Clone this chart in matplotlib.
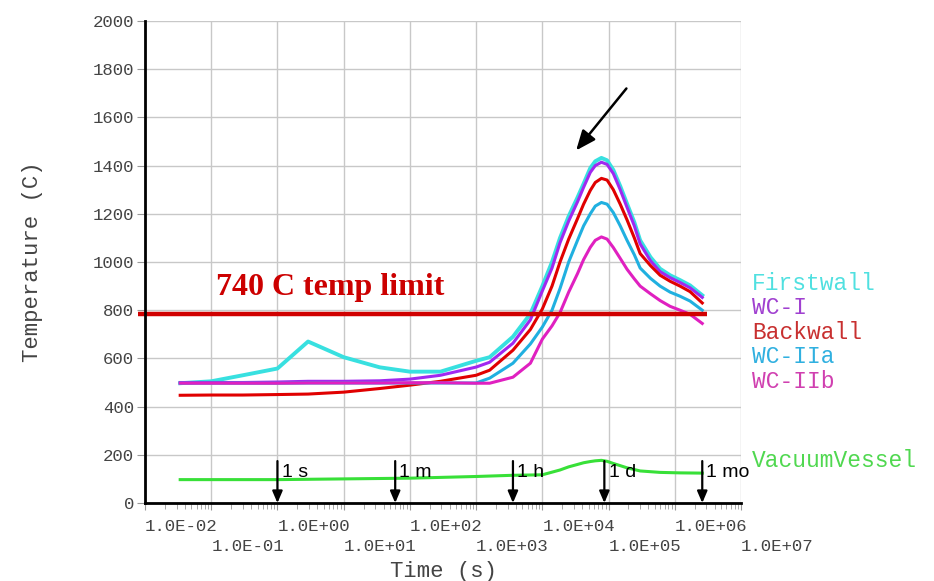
import numpy as np
import matplotlib
matplotlib.use('Agg')
import matplotlib.pyplot as plt
from matplotlib.transforms import blended_transform_factory

# time points (s) shared by the five hot curves
time_s = [0.034, 0.1, 0.3, 1, 2.9, 10, 35, 100, 290, 1000, 1600, 3600, 6600,
          1.0e4, 1.4e4, 1.85e4, 2.5e4, 3.4e4, 4.2e4, 5.3e4, 6.3e4, 7.8e4, 9.5e4,
          1.18e5, 1.5e5, 1.9e5, 2.45e5, 3.0e5, 4.3e5, 6.0e5, 8.5e5, 1.2e6, 1.7e6, 2.6e6]

firstwall = [497, 505, 530, 558, 670, 605, 563, 545, 545, 590, 605, 690, 785,
             900, 1000, 1100, 1190, 1268, 1325, 1390, 1418, 1432, 1422,
             1382, 1315, 1242, 1165, 1090, 1020, 972, 945, 925, 903, 862]
wc_i = [500, 500, 500, 502, 505, 505, 507, 514, 530, 564, 584, 663, 760,
        880, 975, 1080, 1170, 1250, 1310, 1372, 1400, 1414, 1405,
        1367, 1300, 1227, 1150, 1075, 1005, 960, 935, 915, 893, 853]
backwall = [447, 448, 448, 450, 452, 460, 475, 489, 505, 530, 551, 634, 720,
            805, 900, 1000, 1095, 1180, 1240, 1297, 1330, 1347, 1340,
            1300, 1240, 1175, 1100, 1035, 985, 945, 920, 900, 877, 830]
wc_iia = [497, 497, 497, 497, 498, 498, 498, 498, 498, 498, 518, 580, 660,
          730, 800, 890, 1000, 1090, 1150, 1200, 1232, 1247, 1240,
          1205, 1150, 1090, 1030, 975, 932, 900, 875, 858, 838, 800]
wc_iib = [497, 497, 497, 497, 498, 498, 498, 499, 499, 497, 497, 522, 580,
          680, 735, 790, 875, 952, 1010, 1061, 1090, 1104, 1095,
          1060, 1015, 970, 930, 900, 868, 840, 816, 800, 783, 745]

vv_time = [0.034, 1, 10, 100, 1000, 3600, 1.0e4, 1.85e4, 2.5e4, 3.4e4, 4.2e4,
           5.3e4, 6.3e4, 7.8e4, 9.5e4, 1.18e5, 1.5e5, 1.9e5, 3.0e5, 6.0e5, 1.2e6, 2.6e6]
vacuum_vessel = [97, 97, 100, 103, 110, 115, 117, 137, 150, 160, 167, 172, 175,
                 177, 173, 164, 155, 146, 133, 127, 125, 124]

series_names = ['Firstwall', 'WC-I', 'Backwall', 'WC-IIa', 'WC-IIb', 'VacuumVessel']
line_colors = ['#38e0e0', '#a028f0', '#e00000', '#20b0e0', '#e020c0', '#38e038']
label_colors = ['#50e0e0', '#a040d0', '#c83030', '#30b0e0', '#d040b0', '#50d850']
label_ypos = [0.456, 0.405, 0.353, 0.303, 0.253, 0.089]

limit_temp = 783
limit_t = [0.0078, 3.1e6]
limit_text = '740 C temp limit'

marker_times = [1, 60, 3600, 86400, 2.6e6]
marker_labels = ['1 s', '1 m', '1 h', '1 d', '1 mo']

peak_arrow_tail = (1.86e5, 1720)
peak_arrow_tip = (3.24e4, 1463)

x_exponents = list(range(-2, 8))
y_ticks = list(range(0, 2001, 200))

mono = 'Liberation Mono'
tick_col = '#444444'

fig = plt.figure(figsize=(9.34, 5.81), dpi=100)
ax = fig.add_axes([145 / 934, 78 / 581, 596 / 934, 482 / 581])

ax.set_xscale('log')
ax.set_xlim(1e-2, 1e7)
ax.set_ylim(0, 2000)

# grid and spines
ax.grid(True, which='major', color='#c8c8c8', linewidth=1.0)
ax.set_axisbelow(True)
for s in ['top', 'right']:
    ax.spines[s].set_visible(False)
for s in ['left', 'bottom']:
    ax.spines[s].set_linewidth(2.0)
    ax.spines[s].set_color('black')

ax.set_xticks([10.0 ** k for k in x_exponents])
ax.set_xticklabels([])
ax.tick_params(axis='x', which='major', length=5, color='#999999')
ax.tick_params(axis='x', which='minor', length=4, color='#999999')
ax.set_yticks(y_ticks)
ax.set_yticklabels([str(v) for v in y_ticks], fontfamily=mono, fontsize=12.5, color=tick_col)
ax.tick_params(axis='y', length=6, pad=2, color='#999999')

# staggered x tick labels, left aligned on the tick
trans = blended_transform_factory(ax.transData, ax.transAxes)
for k in x_exponents:
    ypos = -0.033 if k % 2 == 0 else -0.075
    ax.text(10.0 ** k, ypos, '1.0E%+03d' % k, transform=trans, ha='left', va='top',
            fontfamily=mono, fontsize=12.5, color=tick_col, clip_on=False)

ax.set_xlabel('Time (s)', fontfamily=mono, fontsize=16, color=tick_col)
ax.xaxis.set_label_coords(0.5, -0.12)
ax.set_ylabel('Temperature (C)', fontfamily=mono, fontsize=16, color=tick_col)
ax.yaxis.set_label_coords(-0.171, 0.5)

# curves
ax.plot(time_s, firstwall, color=line_colors[0], lw=2.8)
ax.plot(time_s, wc_i, color=line_colors[1], lw=2.2)
ax.plot(time_s, backwall, color=line_colors[2], lw=2.2)
ax.plot(time_s, wc_iia, color=line_colors[3], lw=2.2)
ax.plot(time_s, wc_iib, color=line_colors[4], lw=2.2)
ax.plot(vv_time, vacuum_vessel, color=line_colors[5], lw=2.2)

# temp limit
ax.plot(limit_t, [limit_temp, limit_temp], color='#d00000', lw=3.2, clip_on=False,
        solid_capstyle='butt')
ax.text(0.117, 862, limit_text, fontfamily='Liberation Serif', fontweight='bold',
        fontsize=23, color='#cc0000', ha='left', va='baseline')

# series labels at right
for name, col, yp in zip(series_names, label_colors, label_ypos):
    ax.text(1.0185, yp, name, transform=ax.transAxes, ha='left', va='center',
            fontfamily=mono, fontsize=16.5, color=col, clip_on=False)

# time markers
for t, lab in zip(marker_times, marker_labels):
    ax.annotate('', xy=(t, 0), xytext=(t, 174),
                arrowprops=dict(arrowstyle='-|>,head_length=0.7,head_width=0.3',
                                color='black', lw=1.6, shrinkA=0, shrinkB=0))
    ax.annotate(lab, xy=(t, 108), xytext=(3, 0), textcoords='offset points',
                ha='left', va='baseline', fontfamily='Liberation Sans', fontsize=14,
                color='black')

# arrow to peak
ax.annotate('', xy=peak_arrow_tip, xytext=peak_arrow_tail,
            arrowprops=dict(arrowstyle='-|>,head_length=1.2,head_width=0.5',
                            color='black', lw=1.8, shrinkA=0, shrinkB=0))

fig.savefig('out.png', dpi=100, facecolor='white')
